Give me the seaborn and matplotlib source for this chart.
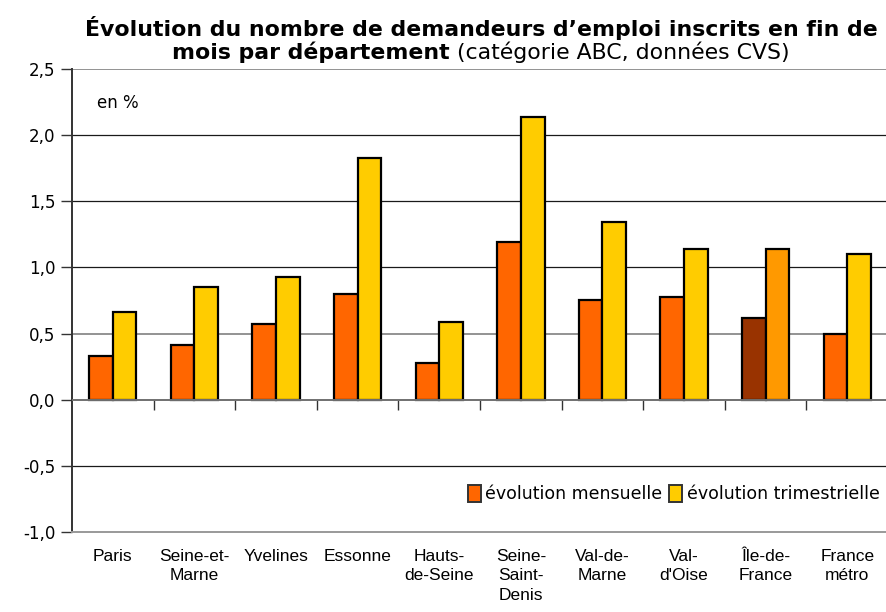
import pandas as pd
import matplotlib
matplotlib.use('Agg')
import matplotlib.pyplot as plt
import seaborn as sns
from matplotlib.patches import Patch
from matplotlib.ticker import FuncFormatter

# data (en %)
DEPARTEMENTS = ['Paris', 'Seine-et-\nMarne', 'Yvelines', 'Essonne', 'Hauts-\nde-Seine',
                'Seine-\nSaint-\nDenis', 'Val-de-\nMarne', "Val-\nd'Oise", 'Île-de-\nFrance', 'France\nmétro']
MENSUELLE = [0.33, 0.41, 0.57, 0.80, 0.28, 1.19, 0.75, 0.78, 0.62, 0.50]
TRIMESTRIELLE = [0.66, 0.85, 0.93, 1.83, 0.59, 2.14, 1.34, 1.14, 1.14, 1.10]
SERIES = ['évolution mensuelle', 'évolution trimestrielle']

# colours
ORANGE = '#FF6600'
YELLOW = '#FFCC00'
IDF_DARK = '#993300'
IDF_LIGHT = '#FF9900'

df = pd.DataFrame({
    'dep': DEPARTEMENTS * 2,
    'serie': [SERIES[0]] * len(MENSUELLE) + [SERIES[1]] * len(TRIMESTRIELLE),
    'val': MENSUELLE + TRIMESTRIELLE,
})

sns.set_style('white')
plt.rcParams['font.family'] = ['DejaVu Sans']
plt.rcParams['text.color'] = 'black'
plt.rcParams['xtick.color'] = 'black'
plt.rcParams['ytick.color'] = 'black'

fig = plt.figure(figsize=(8.87, 6.12), dpi=100)
ax = fig.add_axes([0.0812, 0.1307, 0.92, 0.7566])

sns.barplot(data=df, x='dep', y='val', hue='serie', order=DEPARTEMENTS, hue_order=SERIES,
            palette=[ORANGE, YELLOW], saturation=1, width=0.58, gap=0, edgecolor='black',
            linewidth=1.6, legend=False, ax=ax, zorder=3)

# Ile-de-France bars in their own colours
ax.containers[0][8].set_facecolor(IDF_DARK)
ax.containers[1][8].set_facecolor(IDF_LIGHT)

ax.set_xlim(-0.5, 9.5)
ax.set_ylim(-1.0, 2.5)
ax.set_yticks([-1.0, -0.5, 0.0, 0.5, 1.0, 1.5, 2.0, 2.5])
ax.yaxis.set_major_formatter(FuncFormatter(lambda v, p: f'{v:.1f}'.replace('.', ',')))
ax.set_xlabel('')
ax.set_ylabel('')

# grid lines
for y in [-0.5, 1.0, 1.5, 2.0]:
    ax.axhline(y, color='#1a1a1a', lw=0.9, zorder=1)
for y in [0.5, 2.5]:
    ax.axhline(y, color='#808080', lw=1.2, zorder=1)
ax.axhline(0, color='#707070', lw=1.4, zorder=4)

for s in ['top', 'right']:
    ax.spines[s].set_visible(False)
ax.spines['left'].set_color('#333333')
ax.spines['left'].set_linewidth(1.4)
ax.spines['bottom'].set_color('#999999')
ax.spines['bottom'].set_linewidth(1.4)

ax.tick_params(axis='y', direction='out', length=8, width=1, color='#333333',
               labelsize=12, pad=4, left=True)
ax.tick_params(axis='x', length=0, labelsize=12.5, pad=12)
for lab in ax.get_xticklabels():
    lab.set_family(['Liberation Sans', 'DejaVu Sans'])
    lab.set_linespacing(1.4)
    lab.set_verticalalignment('top')

# boundary ticks on the zero line
sec = ax.secondary_xaxis(1.0 / 3.5)
sec.set_xticks([i + 0.5 for i in range(9)])
sec.tick_params(direction='out', length=7, width=1, color='#333333', labelbottom=False, labeltop=False)
sec.spines['bottom'].set_visible(False)
sec.spines['top'].set_visible(False)

fig.text(97 / 887, 1 - 103 / 612, 'en %', fontsize=12, va='center', ha='left')

handles = [Patch(facecolor=ORANGE, edgecolor='#333333', lw=1.4),
           Patch(facecolor=YELLOW, edgecolor='#333333', lw=1.4)]
ax.legend(handles, SERIES, loc='center right', bbox_to_anchor=(0.998, 0.082), frameon=False,
          ncol=2, fontsize=12.5, handlelength=0.75, handleheight=1.1, handletextpad=0.25,
          columnspacing=0.4, borderaxespad=0)

# title, second line mixes bold and regular; size fitted to the reference line width
TFS = 15
l1 = fig.text(481 / 887, 1 - 28 / 612, 'Évolution du nombre de demandeurs d’emploi inscrits en fin de',
              fontsize=TFS, fontweight='bold', ha='center', va='center')
fig.canvas.draw()
r = fig.canvas.get_renderer()
TFS = TFS * 791 / l1.get_window_extent(r).width
l1.set_fontsize(TFS)
t1 = fig.text(0, 1 - 52 / 612, 'mois par département', fontsize=TFS, fontweight='bold',
              ha='left', va='center')
t2 = fig.text(0, 1 - 52 / 612, ' (catégorie ABC, données CVS)', fontsize=TFS,
              ha='left', va='center')
fig.canvas.draw()
w1 = t1.get_window_extent(r).width / fig.bbox.width
w2 = t2.get_window_extent(r).width / fig.bbox.width
x0 = 481 / 887 - (w1 + w2) / 2
t1.set_x(x0)
t2.set_x(x0 + w1)

fig.savefig('out.png', dpi=100)
